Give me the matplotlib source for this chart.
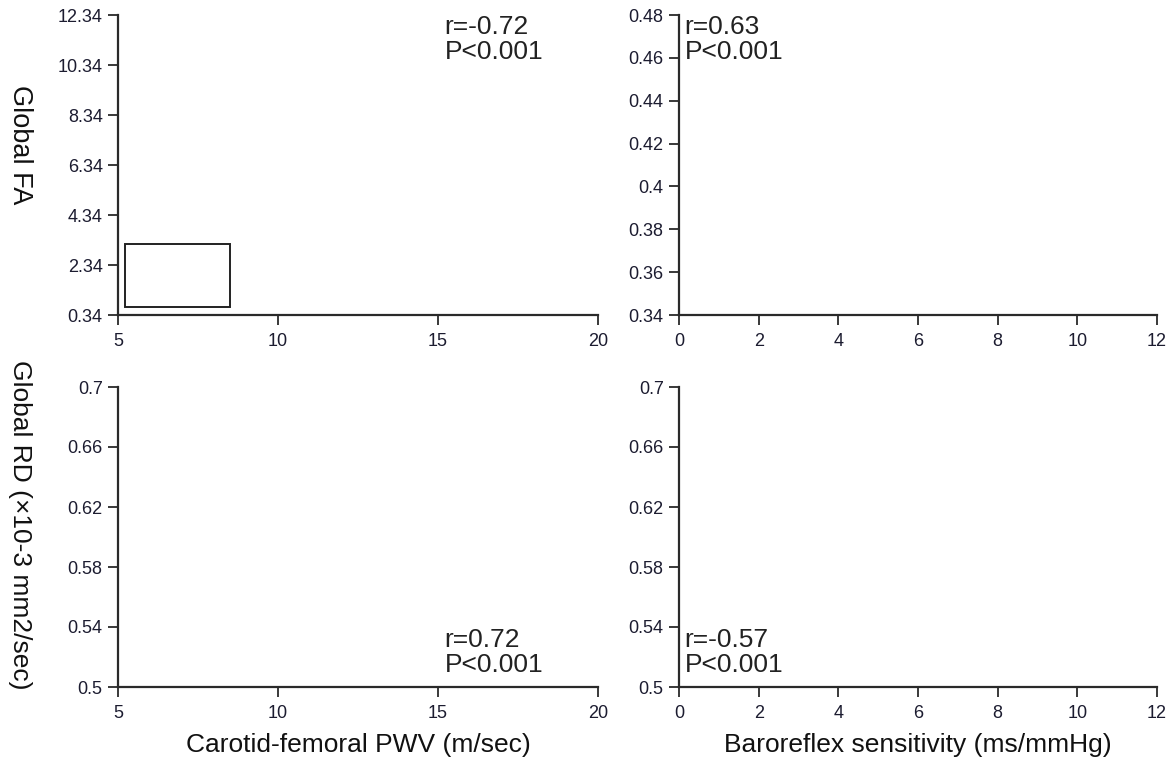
import matplotlib
matplotlib.use("Agg")
import matplotlib.pyplot as plt
from matplotlib.patches import Rectangle

# axis ranges and ticks
pwv_ticks = [5, 10, 15, 20]
brs_ticks = [0, 2, 4, 6, 8, 10, 12]
fa_left_ticks = [0.34, 2.34, 4.34, 6.34, 8.34, 10.34, 12.34]
fa_right_ticks = [0.34, 0.36, 0.38, 0.40, 0.42, 0.44, 0.46, 0.48]
rd_ticks = [0.50, 0.54, 0.58, 0.62, 0.66, 0.70]

# correlation notes per panel
r_values = ["r=-0.72", "r=0.63", "r=0.72", "r=-0.57"]
p_values = ["P<0.001", "P<0.001", "P<0.001", "P<0.001"]

# the lone box left in the top-left panel (data units)
box_x = [5.23, 8.49]
box_y = [0.67, 3.17]

lbl_font = ["Liberation Sans", "DejaVu Sans"]
plt.rcParams["font.family"] = lbl_font
spine_col = "#2a2a2a"


def fmt(v):
    s = ("%.2f" % v).rstrip("0").rstrip(".")
    return s


def style(ax, xt, yt):
    for side in ["top", "right"]:
        ax.spines[side].set_visible(False)
    for side in ["left", "bottom"]:
        ax.spines[side].set_color(spine_col)
        ax.spines[side].set_linewidth(1.6)
    ax.set_xlim(xt[0], xt[-1])
    ax.set_ylim(yt[0], yt[-1])
    ax.set_xticks(xt)
    ax.set_yticks(yt)
    ax.set_xticklabels([fmt(v) for v in xt])
    ax.set_yticklabels([fmt(v) for v in yt])
    ax.tick_params(direction="out", length=7, width=1.3, color=spine_col,
                   labelsize=13, labelcolor="#1c1c30")
    ax.tick_params(axis="x", pad=6)
    ax.tick_params(axis="y", pad=4)


fig = plt.figure(figsize=(11.72, 7.67), dpi=100)
W, H = 1172.0, 767.0


def add_axes(l, r, t, b):
    return fig.add_axes([l / W, 1 - b / H, (r - l) / W, (b - t) / H])


ax1 = add_axes(118, 598, 15, 315)
ax2 = add_axes(679, 1157, 15, 315)
ax3 = add_axes(118, 598, 387, 687)
ax4 = add_axes(679, 1157, 387, 687)

style(ax1, pwv_ticks, fa_left_ticks)
style(ax2, brs_ticks, fa_right_ticks)
style(ax3, pwv_ticks, rd_ticks)
style(ax4, brs_ticks, rd_ticks)

ax1.add_patch(Rectangle((box_x[0], box_y[0]), box_x[1] - box_x[0], box_y[1] - box_y[0],
                        fill=False, edgecolor="#222222", linewidth=1.4))

# r / P notes
note_pos = [(0.68, 1.0, "top"), (0.012, 1.0, "top"), (0.68, 0.035, "bottom"), (0.012, 0.035, "bottom")]
for ax, r, p, (nx, ny, va) in zip([ax1, ax2, ax3, ax4], r_values, p_values, note_pos):
    ax.text(nx, ny, r + "\n" + p, transform=ax.transAxes, ha="left", va=va,
            fontsize=19, color="#222222", linespacing=1.05)

# axis titles
fig.text(20 / W, 1 - 145 / H, "Global FA", rotation=270, ha="center", va="center",
         fontsize=19.5, color="#111111")
fig.text(20 / W, 1 - 525 / H, "Global RD (\u00d710-3 mm2/sec)", rotation=270, ha="center",
         va="center", fontsize=19, color="#111111")
fig.text(358 / W, 1 - 745 / H, "Carotid-femoral PWV (m/sec)", ha="center", va="center",
         fontsize=19, color="#111111")
fig.text(918 / W, 1 - 745 / H, "Baroreflex sensitivity (ms/mmHg)", ha="center", va="center",
         fontsize=19, color="#111111")

fig.savefig("out.png", dpi=100)
